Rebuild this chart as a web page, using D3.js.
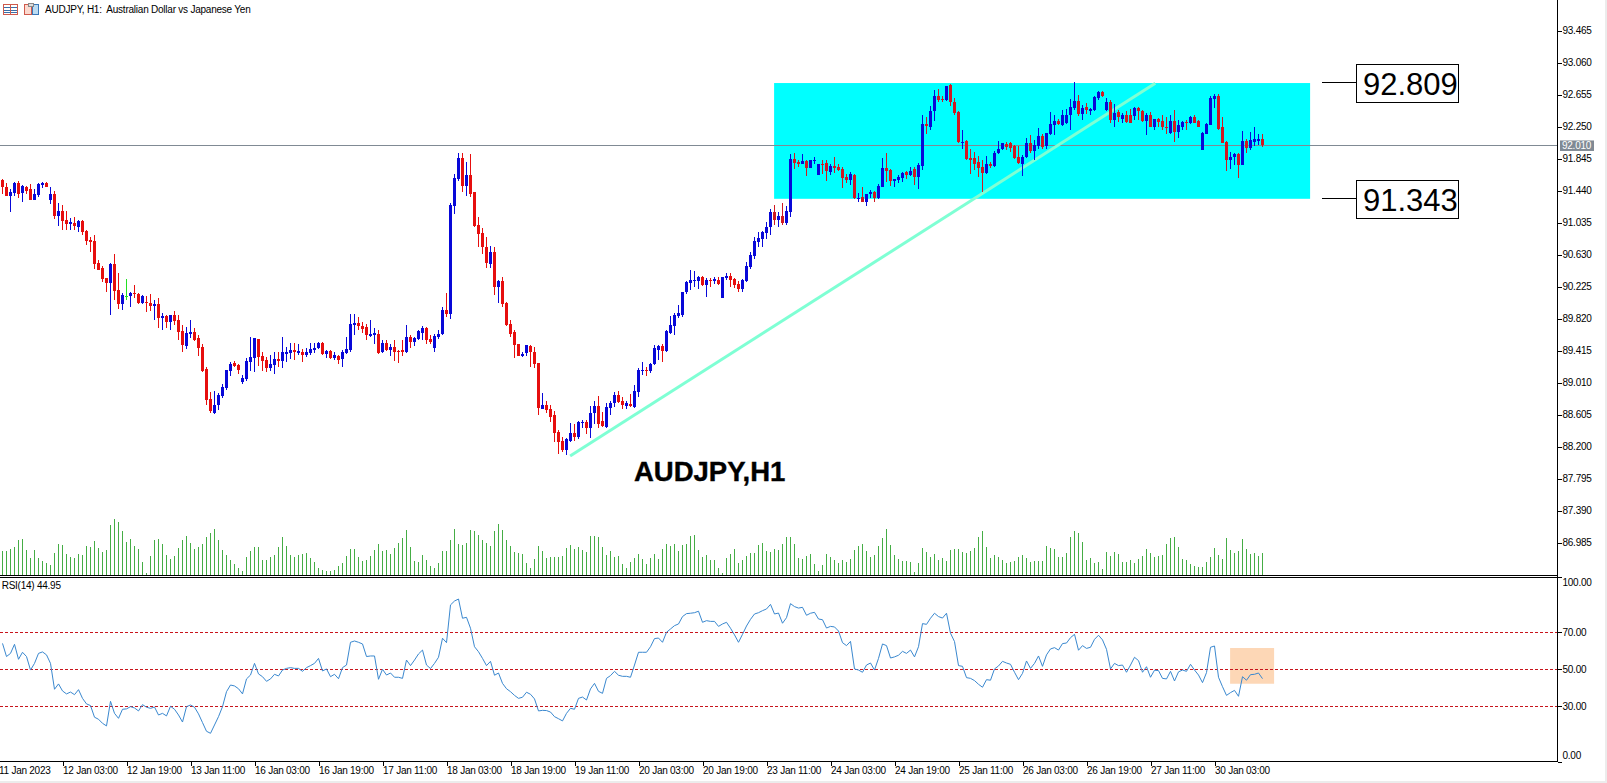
<!DOCTYPE html>
<html>
<head>
<meta charset="utf-8">
<script src="https://cdn.jsdelivr.net/npm/d3@7/dist/d3.min.js"></script>
<style>
html,body{margin:0;padding:0;background:#fff;overflow:hidden}
svg{display:block}
text{font-family:"Liberation Sans",Arial,sans-serif;fill:#000}
.ax text{font-size:10px;letter-spacing:-0.25px}
.ax line{stroke:#000;shape-rendering:crispEdges}
.ax path{display:none}
</style>
</head>
<body>
<div id="chart"></div>
<script>
const opens=[
91.57,91.48,91.37,91.41,91.54,91.41,91.49,91.46,91.32,91.38,
91.51,91.53,91.32,91.40,91.12,91.18,91.07,91.02,91.03,90.98,
91.06,90.93,90.81,90.80,90.52,90.46,90.33,90.27,90.51,90.18,
90.00,90.11,90.10,90.14,90.13,90.02,90.03,90.02,89.98,90.00,
89.83,89.85,89.77,89.86,89.80,89.66,89.47,89.62,89.65,89.57,
89.46,89.18,88.80,88.63,88.72,88.84,88.94,89.15,89.26,89.23,
89.02,89.05,89.27,89.32,89.56,89.34,89.29,89.19,89.23,89.31,
89.28,89.37,89.38,89.42,89.38,89.40,89.36,89.38,89.42,89.45,
89.51,89.37,89.41,89.32,89.35,89.31,89.38,89.42,89.74,89.76,
89.73,89.71,89.60,89.61,89.62,89.39,89.51,89.42,89.46,89.41,
89.42,89.39,89.59,89.52,89.56,89.64,89.70,89.56,89.45,89.59,
89.62,89.93,89.88,91.24,91.59,91.85,91.50,91.64,91.42,91.00,
90.90,90.72,90.51,90.66,90.22,90.30,90.02,89.75,89.65,89.50,
89.34,89.38,89.47,89.39,89.26,88.68,88.72,88.67,88.60,88.38,
88.27,88.15,88.27,88.37,88.32,88.50,88.51,88.43,88.62,88.71,
88.52,88.45,88.69,88.75,88.85,88.78,88.71,88.74,88.70,88.89,
89.15,89.17,89.15,89.25,89.42,89.47,89.41,89.64,89.72,89.85,
89.86,90.15,90.27,90.30,90.29,90.35,90.25,90.31,90.29,90.31,
90.08,90.33,90.36,90.32,90.26,90.19,90.29,90.47,90.61,90.79,
90.83,90.90,90.98,91.17,91.07,91.12,91.03,91.17,91.84,91.80,
91.78,91.81,91.72,91.81,91.64,91.78,91.79,91.68,91.75,91.74,
91.71,91.61,91.57,91.64,91.33,91.36,91.30,91.39,91.42,91.34,
91.49,91.72,91.70,91.56,91.57,91.60,91.67,91.63,91.71,91.61,
91.75,92.28,92.25,92.44,92.64,92.60,92.58,92.77,92.56,92.43,
92.05,92.07,91.85,91.85,91.80,91.74,91.66,91.77,91.75,91.91,
91.96,92.03,92.04,92.00,91.86,91.78,91.86,92.04,91.94,92.00,
92.13,92.00,92.15,92.27,92.32,92.27,92.29,92.40,92.49,92.57,
92.41,92.50,92.45,92.46,92.61,92.69,92.46,92.56,92.33,92.43,
92.35,92.40,92.39,92.38,92.49,92.45,92.32,92.40,92.24,92.34,
92.32,92.25,92.17,92.32,92.18,92.25,92.31,92.29,92.37,92.32,
91.95,92.15,92.27,92.60,92.64,92.24,92.05,91.83,91.86,91.90,
91.76,92.07,91.98,92.06,92.07,92.09];
const highs=[
91.58,91.53,91.46,91.55,91.56,91.51,91.50,91.52,91.46,91.54,
91.55,91.55,91.48,91.44,91.28,91.26,91.18,91.09,91.10,91.07,
91.07,90.94,90.85,90.88,90.56,90.48,90.33,90.52,90.64,90.39,
90.14,90.32,90.15,90.24,90.14,90.12,90.10,90.13,90.05,90.08,
89.89,89.86,89.86,89.91,89.86,89.74,89.71,89.80,89.70,89.61,
89.50,89.20,88.89,88.90,88.88,88.99,89.17,89.27,89.28,89.25,
89.10,89.32,89.58,89.57,89.56,89.39,89.33,89.36,89.39,89.40,
89.58,89.46,89.51,89.51,89.50,89.44,89.45,89.51,89.51,89.52,
89.52,89.42,89.42,89.39,89.36,89.42,89.59,89.88,89.88,89.84,
89.77,89.75,89.80,89.70,89.67,89.55,89.55,89.50,89.55,89.42,
89.55,89.74,89.61,89.59,89.68,89.72,89.71,89.61,89.62,89.68,
89.96,90.14,91.28,91.65,91.91,91.91,91.80,91.90,91.42,91.10,
90.96,90.85,90.74,90.73,90.31,90.34,90.03,89.80,89.67,89.50,
89.40,89.48,89.48,89.46,89.26,88.88,88.78,88.72,88.65,88.41,
88.32,88.31,88.50,88.49,88.52,88.53,88.53,88.71,88.78,88.84,
88.64,88.75,88.78,88.89,88.90,88.83,88.77,88.86,88.98,89.19,
89.27,89.20,89.26,89.49,89.48,89.50,89.68,89.85,89.89,89.99,
90.15,90.30,90.43,90.42,90.36,90.36,90.33,90.33,90.34,90.35,
90.35,90.39,90.40,90.33,90.30,90.32,90.53,90.66,90.85,90.92,
90.93,91.04,91.20,91.26,91.17,91.28,91.24,91.90,91.92,91.83,
91.90,91.83,91.83,91.86,91.78,91.82,91.83,91.78,91.86,91.78,
91.74,91.65,91.67,91.65,91.41,91.49,91.40,91.45,91.44,91.52,
91.85,91.92,91.71,91.59,91.63,91.68,91.69,91.74,91.74,91.79,
92.40,92.37,92.51,92.71,92.72,92.63,92.76,92.79,92.61,92.44,
92.21,92.08,91.97,91.93,91.88,91.83,91.88,91.80,91.94,92.07,
92.04,92.06,92.06,92.02,92.00,91.89,92.10,92.14,92.08,92.23,
92.16,92.17,92.43,92.40,92.34,92.46,92.47,92.60,92.81,92.65,
92.52,92.55,92.49,92.63,92.70,92.70,92.61,92.59,92.54,92.46,
92.42,92.44,92.47,92.50,92.50,92.46,92.42,92.43,92.34,92.36,
92.39,92.37,92.40,92.46,92.33,92.32,92.33,92.38,92.39,92.33,
92.18,92.30,92.63,92.66,92.66,92.37,92.07,91.93,91.92,91.91,
92.19,92.09,92.18,92.25,92.15,92.15];
const lows=[
91.40,91.37,91.17,91.37,91.35,91.29,91.40,91.32,91.32,91.36,
91.47,91.49,91.27,91.08,90.99,90.94,90.94,90.94,90.94,90.92,
90.88,90.75,90.66,90.45,90.43,90.28,90.15,89.87,90.05,89.94,
89.93,90.05,89.96,90.08,90.00,90.00,89.90,89.91,89.80,89.70,
89.68,89.70,89.68,89.74,89.55,89.39,89.44,89.57,89.53,89.34,
89.14,88.73,88.62,88.61,88.66,88.82,88.91,89.09,89.20,89.12,
88.99,89.03,89.15,89.14,89.22,89.15,89.14,89.16,89.12,89.20,
89.19,89.27,89.31,89.29,89.36,89.27,89.33,89.36,89.38,89.44,
89.36,89.32,89.31,89.29,89.24,89.21,89.37,89.40,89.61,89.68,
89.64,89.55,89.59,89.50,89.37,89.38,89.41,89.34,89.28,89.26,
89.34,89.38,89.45,89.47,89.55,89.55,89.50,89.50,89.40,89.56,
89.61,89.84,89.82,91.14,91.56,91.42,91.37,91.36,90.98,90.73,
90.64,90.46,90.46,90.12,90.01,89.97,89.73,89.59,89.32,89.34,
89.33,89.34,89.21,89.19,88.60,88.67,88.63,88.51,88.26,88.11,
88.13,88.09,88.26,88.27,88.29,88.43,88.36,88.31,88.49,88.43,
88.45,88.44,88.60,88.70,88.75,88.68,88.68,88.70,88.69,88.83,
89.10,89.09,89.13,89.23,89.29,89.27,89.39,89.62,89.61,89.83,
89.84,90.13,90.18,90.22,90.19,90.23,90.09,90.22,90.26,90.25,
90.08,90.31,90.22,90.20,90.16,90.16,90.28,90.45,90.57,90.73,
90.72,90.82,90.88,91.00,90.98,91.00,91.00,91.10,91.71,91.74,
91.77,91.62,91.72,91.78,91.64,91.65,91.56,91.64,91.66,91.69,
91.47,91.53,91.51,91.33,91.29,91.29,91.25,91.34,91.30,91.33,
91.48,91.55,91.50,91.48,91.54,91.55,91.59,91.62,91.51,91.46,
91.70,92.15,92.21,92.32,92.56,92.56,92.57,92.51,92.40,92.04,
91.97,91.83,91.65,91.70,91.61,91.42,91.65,91.73,91.74,91.90,
91.95,91.95,91.93,91.84,91.78,91.62,91.85,91.91,91.83,91.97,
91.96,91.97,92.14,92.14,92.27,92.26,92.28,92.21,92.46,92.38,
92.33,92.41,92.40,92.45,92.59,92.62,92.45,92.29,92.25,92.31,
92.30,92.30,92.29,92.33,92.33,92.31,92.14,92.25,92.20,92.25,
92.21,92.16,92.16,92.06,92.11,92.21,92.21,92.28,92.29,92.24,
91.95,92.15,92.27,92.48,92.21,92.04,91.69,91.71,91.76,91.60,
91.76,91.91,91.95,92.00,92.01,91.99];
const closes=[
91.48,91.37,91.42,91.54,91.40,91.50,91.43,91.32,91.40,91.52,
91.53,91.49,91.40,91.12,91.18,91.06,91.02,91.04,90.99,91.06,
90.91,90.80,90.79,90.51,90.44,90.32,90.27,90.51,90.17,90.00,
90.12,90.11,90.14,90.13,90.02,90.11,90.01,89.98,90.00,89.83,
89.85,89.77,89.86,89.79,89.65,89.48,89.64,89.65,89.55,89.45,
89.16,88.79,88.65,88.73,88.85,88.95,89.17,89.25,89.22,89.17,
89.07,89.28,89.33,89.57,89.33,89.28,89.19,89.24,89.31,89.28,
89.39,89.40,89.42,89.39,89.41,89.36,89.40,89.43,89.45,89.51,
89.37,89.41,89.32,89.36,89.29,89.39,89.43,89.75,89.76,89.72,
89.69,89.61,89.63,89.64,89.38,89.51,89.42,89.46,89.39,89.40,
89.39,89.59,89.52,89.57,89.66,89.70,89.55,89.52,89.60,89.63,
89.93,89.88,91.26,91.60,91.85,91.50,91.64,91.40,90.99,90.89,
90.72,90.52,90.66,90.22,90.30,90.00,89.74,89.63,89.49,89.34,
89.37,89.48,89.39,89.25,88.69,88.72,88.66,88.57,88.37,88.26,
88.15,88.30,88.37,88.32,88.51,88.51,88.43,88.63,88.71,88.49,
88.46,88.70,88.75,88.85,88.76,88.72,88.75,88.71,88.90,89.17,
89.17,89.16,89.25,89.45,89.47,89.41,89.66,89.74,89.86,89.89,
90.15,90.28,90.31,90.31,90.34,90.24,90.31,90.29,90.32,90.26,
90.34,90.36,90.31,90.24,90.19,90.31,90.48,90.62,90.80,90.84,
90.91,90.98,91.17,91.07,91.12,91.03,91.18,91.84,91.79,91.78,
91.81,91.73,91.83,91.83,91.77,91.76,91.69,91.75,91.73,91.70,
91.60,91.57,91.65,91.34,91.35,91.30,91.40,91.42,91.34,91.50,
91.72,91.69,91.56,91.59,91.61,91.66,91.63,91.69,91.61,91.76,
92.28,92.26,92.44,92.63,92.59,92.58,92.76,92.56,92.42,92.05,
92.06,91.84,91.82,91.78,91.72,91.66,91.77,91.75,91.91,91.96,
92.04,91.99,91.98,91.85,91.79,91.87,92.04,91.94,92.02,92.13,
91.99,92.17,92.28,92.32,92.28,92.40,92.40,92.50,92.57,92.41,
92.49,92.46,92.47,92.62,92.69,92.64,92.56,92.33,92.42,92.37,
92.40,92.31,92.30,92.49,92.44,92.32,92.40,92.25,92.34,92.31,
92.24,92.23,92.32,92.18,92.27,92.31,92.29,92.37,92.30,92.25,
92.17,92.28,92.61,92.64,92.22,92.04,91.83,91.87,91.90,91.76,
92.07,91.98,92.08,92.09,92.09,92.01];
const volumes=[
72,72,77,84,105,108,75,51,75,51,
42,36,30,66,93,90,63,54,51,63,
60,87,84,102,81,69,75,150,168,159,
132,99,108,87,78,39,6,57,105,108,
93,60,48,57,81,105,117,96,78,84,
93,114,126,138,105,75,60,45,33,21,
12,54,72,84,84,45,45,54,60,84,
114,87,60,54,60,63,66,51,39,21,
15,12,12,15,27,36,57,78,78,54,
42,45,57,75,93,72,75,63,81,96,
111,135,84,42,39,60,45,27,21,36,
72,72,105,138,93,90,96,135,132,120,
105,96,87,132,153,135,105,87,69,66,
63,36,21,48,87,72,51,54,54,54,
57,81,90,78,84,75,69,117,117,114,
84,60,72,54,57,33,21,39,51,63,
48,33,51,63,48,78,93,87,93,72,
90,93,117,120,75,54,60,45,45,21,
6,51,63,78,36,45,57,66,66,90,
96,72,69,78,75,93,114,114,93,51,
48,57,63,33,12,30,63,54,45,36,
45,39,48,75,87,93,72,54,60,87,
111,138,90,60,48,42,42,39,9,36,
81,69,54,63,45,51,42,75,78,78,
69,66,72,81,114,132,84,51,60,54,
45,36,39,42,54,60,51,39,42,41,
42,87,81,78,54,54,66,114,132,126,
99,45,51,36,39,18,69,57,69,63,
39,39,45,36,48,57,78,66,54,57,
60,93,111,114,84,48,45,33,27,24,
24,39,54,81,60,48,111,75,66,72,
108,78,63,66,57,66];
const rsiValues=[
64.0,56.9,58.6,63.5,55.4,59.2,56.9,49.6,53.2,58.6,59.4,57.8,53.2,
39.2,42.1,38.3,36.7,37.7,36.3,39.0,34.3,31.3,30.4,24.1,23.0,20.8,19.4,32.7,26.2,23.5,
28.4,28.6,29.8,29.1,27.5,30.9,29.5,28.9,29.6,25.3,26.2,24.8,30.0,28.4,25.3,21.5,29.8,
30.7,29.5,25.9,21.2,16.5,15.4,19.9,24.4,29.8,37.9,41.5,41.0,39.5,36.7,44.8,46.9,53.2,
47.5,46.0,43.5,44.8,47.3,46.4,49.6,50.5,50.9,50.5,50.5,48.9,50.9,52.0,53.2,55.9,49.1,
50.2,46.0,47.3,44.9,50.9,52.3,64.6,65.3,64.6,63.7,56.9,57.2,57.2,44.6,50.0,46.9,48.0,
45.7,45.7,45.1,55.0,52.0,55.0,58.3,
60.4,52.3,50.4,53.2,56.5,66.8,64.4,84.8,86.9,88.0,77.6,78.1,72.2,62.2,59.5,55.9,52.0,
54.3,46.8,48.0,42.4,39.5,37.9,35.9,34.3,34.9,37.6,36.5,34.0,27.5,27.8,27.7,26.9,24.4,
23.3,22.1,26.2,28.9,28.4,34.3,35.0,33.4,39.4,42.4,38.1,37.0,45.1,46.6,48.9,46.8,46.2,
46.2,45.7,52.3,59.2,59.2,59.2,62.2,66.6,66.9,64.6,70.0,71.8,73.6,74.5,78.5,80.1,80.3,
80.6,81.4,75.4,76.3,75.9,75.9,73.2,74.5,75.4,72.2,68.6,64.6,68.9,73.4,77.0,79.9,80.6,
81.7,82.6,85.1,79.9,80.4,74.9,77.9,85.5,83.9,83.1,83.5,79.2,80.3,80.8,77.2,76.8,72.3,
73.2,72.9,70.7,
64.4,62.8,65.1,50.2,49.6,48.4,52.3,53.4,49.6,55.9,63.7,62.8,56.1,56.7,57.6,59.7,58.6,
60.4,56.7,62.2,74.7,74.3,77.6,80.3,78.5,77.7,80.3,69.5,65.0,52.0,51.6,45.5,45.1,43.9,
41.9,40.3,44.4,44.1,50.2,51.8,54.3,53.4,52.7,48.4,44.4,47.8,54.5,50.5,53.2,57.2,51.6,
57.8,61.0,61.7,60.4,63.9,64.2,67.1,68.9,60.3,62.8,61.3,61.9,66.2,68.4,65.9,60.8,50.2,
53.2,52.0,52.3,48.4,52.3,56.5,54.7,48.4,51.4,45.7,49.5,49.3,45.1,44.8,48.9,43.7,48.6,
49.6,48.9,52.7,49.6,46.9,42.8,48.2,61.9,62.6,45.7,40.6,35.9,37.4,38.6,35.4,46.0,44.1,
47.1,47.3,48.0,44.95];
const priceTicks=[93.465,93.06,92.655,92.25,91.845,91.44,91.035,90.63,90.225,89.82,89.415,89.01,88.605,88.2,87.795,87.39,86.985];
const rsiTicks=[100,70,50,30,0];
const rsiLevels=[70,50,30];
const timeTickBars=[-1,15,31,47,63,79,95,111,127,143,159,175,191,207,223,239,255,271,287,303];
const timeTickLabels=["11 Jan 2023","12 Jan 03:00","12 Jan 19:00","13 Jan 11:00","16 Jan 03:00","16 Jan 19:00","17 Jan 11:00","18 Jan 03:00","18 Jan 19:00","19 Jan 11:00","20 Jan 03:00","20 Jan 19:00","23 Jan 11:00","24 Jan 03:00","24 Jan 19:00","25 Jan 11:00","26 Jan 03:00","26 Jan 19:00","27 Jan 11:00","30 Jan 03:00"];
const currentPrice=92.010;
const zonePrices=[92.80,91.335];
const zoneBars=[192.9,326.9];
const zoneLabels=[92.809,91.343];
const trendBars=[141.9,288.2];
const trendPrices=[88.08,92.796];
const rsiBoxBars=[306.9,317.9];
const rsiBoxValues=[61.5,42.2];
const titleText="AUDJPY, H1:  Australian Dollar vs Japanese Yen";
const rsiText="RSI(14) 44.95";
const symbolText="AUDJPY,H1";

const W=1607,H=783,axisX=1557,mainBottom=575.5,rsiTop=577.5,timeY=761.5;
const svg=d3.select("#chart").append("svg").attr("width",W).attr("height",H);
const x=d3.scaleLinear().domain([0,315]).range([2.5,1262.5]);
const y=d3.scaleLinear().domain([93.465,86.985]).range([30.5,542.5]);
const yVol=d3.scaleLinear().domain([0,180]).range([575,515]);
const yRsi=d3.scaleLinear().domain([0,100]).range([761.8,576.8]);
svg.append("rect").attr("width",W).attr("height",H).attr("fill","#fff");
svg.append("rect").attr("x",1605).attr("y",0).attr("width",2).attr("height",H).attr("fill","#ececec");
svg.append("rect").attr("x",0).attr("y",781).attr("width",W).attr("height",2).attr("fill","#ececec");

// zone rectangle
svg.append("rect").attr("x",x(zoneBars[0])).attr("width",x(zoneBars[1])-x(zoneBars[0]))
 .attr("y",y(zonePrices[0])).attr("height",y(zonePrices[1])-y(zonePrices[0])).attr("fill","#00ffff");
// current price line
svg.append("line").attr("x1",0).attr("x2",axisX).attr("y1",Math.round(y(currentPrice))+.5).attr("y2",Math.round(y(currentPrice))+.5)
 .attr("stroke","#808a94").attr("stroke-width",1).style("shape-rendering","crispEdges");
// trend line
svg.append("line").attr("x1",x(trendBars[0])).attr("y1",y(trendPrices[0])).attr("x2",x(trendBars[1])).attr("y2",y(trendPrices[1]))
 .attr("stroke","#7fffd4").attr("stroke-width",3);

// candles
const candleData=opens.map((o,i)=>({i,o,h:highs[i],l:lows[i],c:closes[i],v:volumes[i]}));
const col=d=>d.c>d.o?"#0808d8":d.c<d.o?(d.i>=193?"#cf1a22":"#e60e0e"):"#22e022";
const candles=svg.append("g").style("shape-rendering","crispEdges");
candles.selectAll("line").data(candleData).join("line")
 .attr("x1",d=>x(d.i)).attr("x2",d=>x(d.i)).attr("y1",d=>y(d.h)).attr("y2",d=>y(d.l))
 .attr("stroke",col).attr("stroke-width",1);
candles.selectAll("rect").data(candleData).join("rect")
 .attr("x",d=>x(d.i)-1.5).attr("width",3)
 .attr("y",d=>y(Math.max(d.o,d.c)))
 .attr("height",d=>Math.max(1,Math.abs(y(d.o)-y(d.c))))
 .attr("fill",col);

// volumes
svg.append("g").style("shape-rendering","crispEdges").selectAll("line").data(candleData).join("line")
 .attr("x1",d=>x(d.i)).attr("x2",d=>x(d.i)).attr("y1",yVol(0)).attr("y2",d=>yVol(d.v))
 .attr("stroke","#45ad45").attr("stroke-width",1);

// rsi box
svg.append("rect").attr("x",x(rsiBoxBars[0])).attr("width",x(rsiBoxBars[1])-x(rsiBoxBars[0]))
 .attr("y",yRsi(rsiBoxValues[0])).attr("height",yRsi(rsiBoxValues[1])-yRsi(rsiBoxValues[0])).attr("fill","#fdd7b6");
// rsi levels
svg.append("g").selectAll("line").data(rsiLevels).join("line")
 .attr("x1",0).attr("x2",axisX).attr("y1",d=>Math.round(yRsi(d))+.5).attr("y2",d=>Math.round(yRsi(d))+.5)
 .attr("stroke","#c8141c").attr("stroke-width",1).attr("stroke-dasharray","3 2").style("shape-rendering","crispEdges");
// rsi line
svg.append("path").datum(rsiValues).attr("fill","none").attr("stroke","#3a88cf").attr("stroke-width",1)
 .attr("d",d3.line().x((d,i)=>x(i)).y(d=>yRsi(d)));

// frames
const frame=svg.append("g").style("shape-rendering","crispEdges").attr("stroke","#000").attr("stroke-width",1);
frame.append("line").attr("x1",0).attr("x2",axisX).attr("y1",mainBottom).attr("y2",mainBottom);
frame.append("line").attr("x1",0).attr("x2",axisX).attr("y1",rsiTop).attr("y2",rsiTop);
frame.append("line").attr("x1",0).attr("x2",axisX).attr("y1",timeY).attr("y2",timeY);
frame.append("line").attr("x1",axisX+.5).attr("x2",axisX+.5).attr("y1",0).attr("y2",timeY);

// axes
svg.append("g").attr("class","ax").attr("transform",`translate(${axisX+.5},0)`)
 .call(d3.axisRight(y).tickValues(priceTicks).tickFormat(d3.format(".3f")).tickSize(4).tickPadding(1));
const ra=svg.append("g").attr("class","ax").attr("transform",`translate(${axisX+.5},0)`)
 .call(d3.axisRight(yRsi).tickValues(rsiTicks).tickFormat(d3.format(".2f")).tickSize(4).tickPadding(1));
ra.selectAll(".tick text").attr("dy",d=>d===100?"0.82em":d===0?"-0.3em":"0.32em");
const ta=svg.append("g").attr("class","ax").attr("transform",`translate(0,${timeY})`)
 .call(d3.axisBottom(x).tickValues(timeTickBars).tickFormat(b=>timeTickLabels[timeTickBars.indexOf(b)]).tickSize(4).tickPadding(0));
ta.selectAll(".tick text").attr("text-anchor","start").attr("dy","0.85em");

// current price tag
svg.append("rect").attr("x",axisX+3).attr("y",y(currentPrice)-5).attr("width",34).attr("height",10.5).attr("fill","#808a94");
svg.append("text").attr("x",axisX+5).attr("y",y(currentPrice)+3.7).text(d3.format(".3f")(currentPrice))
 .style("font-size","10px").style("letter-spacing","-0.25px").style("fill","#fff");

// zone labels
const lblX=1356.5;
zoneLabels.forEach(p=>{
 const cy=Math.round(y(p))+.5;
 svg.append("line").attr("x1",1322).attr("x2",lblX).attr("y1",cy).attr("y2",cy).attr("stroke","#000").style("shape-rendering","crispEdges");
 svg.append("rect").attr("x",lblX).attr("y",cy-18.5).attr("width",102).attr("height",38).attr("fill","#fff").attr("stroke","#000").style("shape-rendering","crispEdges");
 svg.append("text").attr("x",lblX+6.5).attr("y",cy+12.5).text(d3.format(".3f")(p)).style("font-size","31px");
});

// titles
svg.append("text").attr("x",45).attr("y",13).text(titleText).style("font-size","10px").style("letter-spacing","-0.23px").style("white-space","pre").attr("xml:space","preserve");
svg.append("text").attr("x",1.7).attr("y",589).text(rsiText).style("font-size","10px").style("letter-spacing","-0.25px");
svg.append("text").attr("x",634).attr("y",481).text(symbolText).style("font-size","27.5px").style("font-weight","bold").style("stroke","#000").style("stroke-width","0.4px");

// icons
const ic=svg.append("g").style("shape-rendering","crispEdges");
ic.append("rect").attr("x",3.5).attr("y",4.5).attr("width",14).attr("height",10).attr("fill","#fff").attr("stroke","#cf5a4c");
[7,10,12].forEach(v=>ic.append("line").attr("x1",4).attr("x2",17).attr("y1",v+.5).attr("y2",v+.5).attr("stroke","#3a6fa8"));
ic.append("line").attr("x1",10.5).attr("x2",10.5).attr("y1",5).attr("y2",14).attr("stroke","#cf5a4c");
ic.append("rect").attr("x",24.5).attr("y",4.5).attr("width",7).attr("height",10).attr("fill","#fbd9cf").attr("stroke","#cf5a4c");
ic.append("rect").attr("x",32.5).attr("y",4.5).attr("width",6).attr("height",10).attr("fill","#bcdcf2").attr("stroke","#3a78b8");
ic.append("rect").attr("x",28.5).attr("y",3.5).attr("width",5).attr("height",3).attr("fill","#ddd").attr("stroke","#888");
</script>
</body>
</html>
